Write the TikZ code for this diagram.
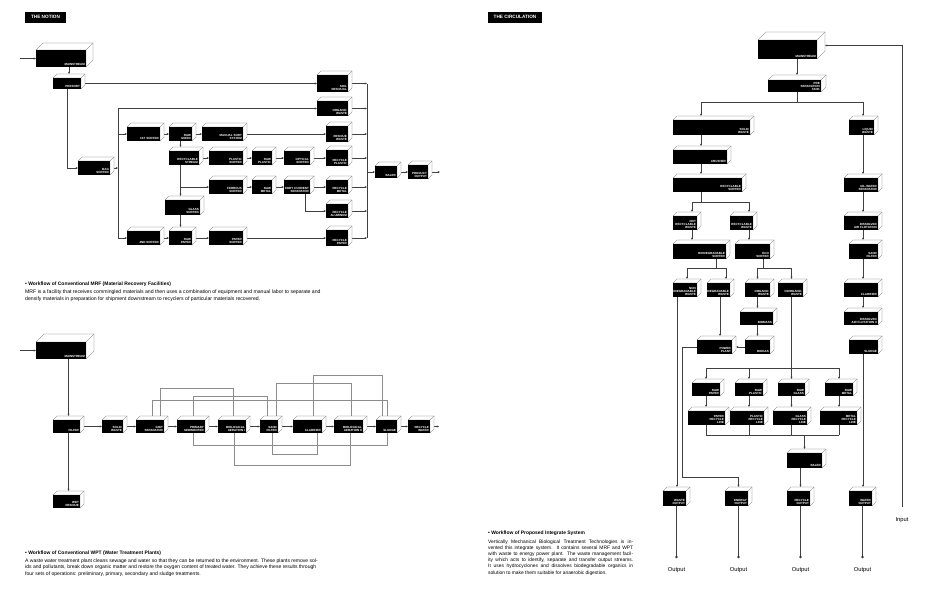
\documentclass[tikz,border=0pt]{standalone}
\usepackage{fontspec}
\setmainfont{Liberation Sans}
\newfontfamily\labfont{Liberation Sans}
\usetikzlibrary{arrows.meta,calc,backgrounds}
\tikzset{
  cn/.style={draw=black!75, line width=0.6pt},
  ar/.style={cn, -{Stealth[length=2.4pt,width=2pt]}},
  lp/.style={draw=black!45, line width=0.55pt},
  face/.style={draw=black!60, line width=0.3pt, fill=white, line join=round},
  front/.style={fill=black, draw=none, inner sep=0pt, outer sep=0pt},
  lbl/.style={text=white, font=\labfont\bfseries\fontsize{3.0}{3.3}\selectfont, inner sep=0.9pt, align=right},
  tagbox/.style={fill=black, text=white, font=\labfont\bfseries\fontsize{4.7}{5}\selectfont, inner sep=0pt, minimum height=11pt},
  captxt/.style={font=\fontsize{4.95}{6}\selectfont\bfseries, anchor=west, inner sep=0pt},
  paratxt/.style={font=\fontsize{5.15}{6.5}\selectfont, anchor=north west, inner sep=0pt, align=left},
  outtxt/.style={font=\fontsize{5.8}{7}\selectfont, inner sep=0pt},
}
\newcommand\cubebox[7][4]{%
  \filldraw[face] (#3,#4) -- ({#3+#1},{#4-#1}) -- ({#5+#1},{#4-#1}) -- ({#5+#1},{#6-#1}) -- (#5,#6) -- (#5,#4) -- cycle;
  \draw[face] (#5,#4) -- ({#5+#1},{#4-#1});
  \node[front, minimum width={#5pt-#3pt}, minimum height={#6pt-#4pt}] (#2) at ({(#3+#5)/2},{(#4+#6)/2}) {};
  \node[inner sep=0pt, outer sep=0pt, minimum width={#5pt-#3pt+#1pt}, minimum height={#6pt-#4pt+#1pt}] (#2o) at ({(#3+#5+#1)/2},{(#4+#6-#1)/2}) {};
  \node[lbl, anchor=south east] (#2l) at (#2.south east) {#7};
}
\begin{document}
\begin{tikzpicture}[x=1pt,y=-1pt]
\useasboundingbox (0,0) rectangle (937,606);
% ---------------- tags
\node[tagbox, minimum width=41pt] (tagA) at (45.5,17) {THE NOTION};
\node[tagbox, minimum width=54pt] (tagB) at (515,17) {THE CIRCULATION};
% ---------------- THE NOTION : MRF
\cubebox[7]{nM}{36}{50}{86}{67}{MAINSTREAM}
\cubebox{nP}{53}{78}{81}{89}{PRESORT}
\cubebox{nBS}{78}{161}{110}{175}{BAG\\SORTER}
\cubebox{nD1}{317}{75}{348}{92}{SOIL\\RESIDUAL}
\cubebox{nD2}{317}{101}{348}{116}{ORGANIC\\WASTE}
\cubebox{nA3}{127}{127}{160}{141}{1ST SORTER}
\cubebox{nB3}{169}{127}{192}{141}{RAW\\MIXED}
\cubebox{nC3}{202}{127}{243}{141}{MANUAL SORT\\SYSTEM}
\cubebox{nD3}{326}{126}{348}{142}{RESIDUE\\WASTE}
\cubebox{nB4}{169}{151}{199}{165}{RECYCLABLE\\STREAM}
\cubebox{nC4}{209}{151}{243}{165}{PLASTIC\\SORTER}
\cubebox{nE4}{252}{151}{272}{165}{RAW\\PLASTIC}
\cubebox{nF4}{284}{151}{310}{165}{OPTICAL\\SORTER}
\cubebox{nD4}{326}{150}{348}{166}{RECYCLE\\PLASTIC}
\cubebox{nC5}{209}{180}{243}{194}{FERROUS\\SORTER}
\cubebox{nE5}{252}{180}{272}{194}{RAW\\METAL}
\cubebox{nF5}{284}{180}{310}{194}{EDDY CURRENT\\SEPARATOR}
\cubebox{nD5}{326}{180}{348}{194}{RECYCLE\\METAL}
\cubebox{nSS}{165}{200}{200}{215}{GLASS\\SORTER}
\cubebox{nD6}{326}{204}{348}{218}{RECYCLE\\ALUMINUM}
\cubebox{nA7}{127}{231}{160}{245}{2ND SORTER}
\cubebox{nB7}{169}{231}{192}{245}{RAW\\PAPER}
\cubebox{nC7}{209}{231}{243}{245}{PAPER\\SORTER}
\cubebox{nD7}{326}{230}{348}{246}{RECYCLE\\PAPER}
\cubebox{nBA}{375}{166}{397}{178}{BALER}
\cubebox{nPO}{408}{165}{428}{179}{PRODUCT\\OUTPUT}
\coordinate (nIn) at (20,58.5);
\coordinate (nV) at (118,0);
\coordinate (nC) at (367,0);
\coordinate (nOut) at (440,172);
% ---------------- WTP
\cubebox[8]{wM}{36}{342}{86}{359}{MAINSTREAM}
\cubebox{wF}{53}{420}{80}{433}{FILTER}
\cubebox{wW}{53}{495}{80}{508}{WET\\RESIDUE}
\cubebox{wSW}{102}{420}{123}{433}{SOLID\\WASTE}
\cubebox{wGS}{136}{420}{164}{433}{GRIT\\SEPARATOR}
\cubebox{wPS}{177}{420}{205}{433}{PRIMARY\\SEDIMENTER}
\cubebox{wA1}{218}{420}{246}{433}{BIOLOGICAL\\AERATION I}
\cubebox{wSF}{260}{420}{278}{433}{SAND\\FILTER}
\cubebox{wCL}{293}{420}{322}{433}{CLARIFIER}
\cubebox{wA2}{334}{420}{363}{433}{BIOLOGICAL\\AERATION II}
\cubebox{wSL}{376}{420}{397}{433}{SLUDGE}
\cubebox{wRW}{408}{420}{430}{433}{RECYCLE\\WATER}
\coordinate (wIn) at (20,350.5);
\coordinate (wOut) at (439,426.5);
% ---------------- THE CIRCULATION
\cubebox[8]{cM}{758}{40}{817}{59}{MAINSTREAM}
\cubebox[5]{cS}{768}{80}{821}{92}{PRE\\SEPARATION\\TANK}
\cubebox{cSW}{673}{120}{750}{135}{SOLID\\WASTE}
\cubebox{cLW}{849}{120}{874}{135}{LIQUID\\WASTE}
\cubebox{cCR}{673}{150}{727}{164}{CRUSHER}
\cubebox{cRS}{673}{178}{742}{192}{RECYCLABLE\\SORTER}
\cubebox{cOS}{844}{178}{878}{192}{OIL-WATER\\SEPARATOR}
\cubebox{cNR}{673}{216}{697}{230}{NOT\\RECYCLABLE\\WASTE}
\cubebox{cRW}{730}{216}{753}{230}{RECYCLABLE\\WASTE}
\cubebox{cDA}{844}{216}{878}{230}{DISSOLVED\\AIR FLOTATION}
\cubebox{cBS}{673}{244}{726}{259}{BIODEGRADABLE\\SORTER}
\cubebox{cES}{735}{244}{770}{259}{ECO\\SORTER}
\cubebox{cSF}{849}{244}{878}{259}{SAND\\FILTER}
\cubebox{cNB}{673}{283}{697}{297}{NON\\BIODEGRADABLE\\WASTE}
\cubebox{cBW}{707}{283}{730}{297}{BIODEGRADABLE\\WASTE}
\cubebox{cOW}{745}{283}{770}{297}{ORGANIC\\WASTE}
\cubebox{cIW}{778}{283}{803}{297}{INORGANIC\\WASTE}
\cubebox{cCL}{844}{283}{878}{297}{CLARIFIER}
\cubebox{cBM}{740}{312}{773}{325}{BIOMASS}
\cubebox{cD2}{844}{312}{878}{325}{DISSOLVED\\AIR FLOTATION II}
\cubebox{cPP}{697}{340}{732}{354}{POWER\\PLANT}
\cubebox{cBG}{745}{340}{770}{354}{BIOGAS}
\cubebox{cSL}{849}{340}{878}{354}{SLUDGE}
\cubebox{cRP}{692}{383}{720}{396}{RAW\\PAPER}
\cubebox{cRL}{735}{383}{763}{396}{RAW\\PLASTIC}
\cubebox{cRG}{778}{383}{805}{396}{RAW\\GLASS}
\cubebox{cRM}{825}{383}{853}{396}{RAW\\METAL}
\cubebox{cLP}{688}{411}{725}{425}{PAPER\\RECYCLE\\LINE}
\cubebox{cLL}{730}{411}{764}{425}{PLASTIC\\RECYCLE\\LINE}
\cubebox{cLG}{773}{411}{807}{425}{GLASS\\RECYCLE\\LINE}
\cubebox{cLM}{820}{411}{857}{425}{METAL\\RECYCLE\\LINE}
\cubebox{cBA}{787}{453}{822}{468}{BALER}
\cubebox{cWO}{663}{491}{686}{506}{WASTE\\OUTPUT}
\cubebox{cEO}{725}{491}{748}{506}{ENERGY\\OUTPUT}
\cubebox{cRO}{787}{491}{810}{506}{RECYCLE\\OUTPUT}
\cubebox{cWA}{849}{491}{872}{506}{WATER\\OUTPUT}
\coordinate (vS) at (701,0);
\coordinate (hS) at (0,102);
\coordinate (hR) at (0,202);
\coordinate (vNR) at (692,0);
\coordinate (vRW) at (749,0);
\coordinate (vBS) at (716,0);
\coordinate (hB) at (0,268);
\coordinate (vNB1) at (687,0);
\coordinate (vNB2) at (677,0);
\coordinate (vBW1) at (726,0);
\coordinate (vBW2) at (720,0);
\coordinate (vES) at (763,0);
\coordinate (vL) at (863,0);
\coordinate (vEn) at (682,0);
\coordinate (hEn) at (0,477);
\coordinate (hRaw) at (0,368);
\coordinate (hLine) at (0,435);
\coordinate (hO) at (0,557);
\coordinate (cIn) at (902,507);
\node[outtxt] (tIn) at (902,520) {Input};
\foreach \b/\t in {cWO/oA,cEO/oB,cRO/oC,cWA/oD}{
  \fill[black!80] (\b o.south |- hO) circle (1.3pt);
  \node[outtxt] (\t) at ($(\b o.south |- hO)+(0,13)$) {Output};
}
% ---------------- captions
\node[captxt] (capA) at (25,284) {\textbullet\ Workflow of Conventional MRF (Material Recovery Facilities)};
\node[paratxt] (parA) at (25,290) {MRF is a facility that receives commingled materials and then uses a combination of equipment and manual labor to separate and\\densify materials in preparation for shipment downstream to recyclers of particular materials recovered.};
\node[captxt] (capB) at (25,553) {\textbullet\ Workflow of Conventional WPT (Water Treatment Plants)};
\node[paratxt, font=\fontsize{5.05}{6.1}\selectfont] (parB) at (25,559) {A waste water treatment plant cleans sewage and water so that they can be returned to the environment. These plants remove sol-\\ids and pollutants, break down organic matter and restore the oxygen content of treated water. They achieve these results through\\four sets of operations: preliminary, primary, secondary and sludge treatments.};
\node[captxt] (capC) at (488,533) {\textbullet\ Workflow of Proposed Integrate System};
\node[paratxt, font=\fontsize{4.9}{6.15}\selectfont] (parC) at (488,539.5) {\makebox[145pt][s]{Vertically Mechanical Biological Treatment Technologies is in-}\\\makebox[145pt][s]{vented this integrate system. It contains several MRF and WPT}\\\makebox[145pt][s]{with waste to energy power plant. The waste management facil-}\\\makebox[145pt][s]{ity which acts to identify, separate and transfer output streams.}\\\makebox[145pt][s]{It uses hydrocyclones and dissolves biodegradable organics in}\\solution to make them suitable for anaerobic digestion.};
% ---------------- connectors (behind boxes)
\begin{pgfonlayer}{background}
\fill[white] (0,0) rectangle (937,606);
% MRF
\draw[ar] (nIn) -- (nM.west);
\draw[ar] (nPo.north |- nM.south) -- (nPo.north);
\draw[ar] (nP.south) |- (nBS.west);
\draw[ar] (nBS.east) -- (nBS.east -| nV);
\draw[cn] (nV |- nD2.west) -- (nV |- nA7.west);
\draw[ar] (nV |- nD2.west) -- (nD2.west);
\draw[ar] (nV |- nA3.west) -- (nA3.west);
\draw[ar] (nV |- nA7.west) -- (nA7.west);
\draw[ar] (nP.east) -- (nD1.west);
\draw[ar] (nA3.east) -- (nB3.west);
\draw[ar] (nB3.east) -- (nC3.west);
\draw[ar] (nC3.east) -- (nD3.west);
\draw[ar] (nB3.south) -- (nB3.south |- nB4o.north);
\draw[ar] (nB4.east) -- (nC4.west);
\draw[ar] (nC4.east) -- (nE4.west);
\draw[ar] (nE4.east) -- (nF4.west);
\draw[ar] (nF4.east) -- (nD4.west);
\draw[ar] (nB3.south |- nB4.south) -- (nB3.south |- nSSo.north);
\draw[ar] (nB3.south |- nC5.west) -- (nC5.west);
\draw[ar] (nC5.east) -- (nE5.west);
\draw[ar] (nE5.east) -- (nF5.west);
\draw[ar] (nF5.east) -- (nD5.west);
\draw[ar] ([xshift=8pt]nF5.south) |- (nD6.west);
\draw[ar] (nB3.south |- nSS.south) -- (nB3.south |- nB7o.north);
\draw[ar] (nA7.east) -- (nB7.west);
\draw[ar] (nB7.east) -- (nC7.west);
\draw[ar] (nC7.east) -- (nD7.west);
\draw[cn] (nC |- nD1.east) -- (nC |- nD7.east);
\foreach \n in {nD1,nD2,nD3,nD4,nD5,nD6,nD7} \draw[ar] (\n.east) -- (\n.east -| nC);
\draw[ar] (nC |- nBA.west) -- (nBA.west);
\draw[ar] (nBA.east) -- (nPO.west);
\draw[ar] (nPO.east) -- (nOut);
% WTP
\draw[ar] (wIn) -- (wM.west);
\draw[ar] (wFo.north |- wM.south) -- (wFo.north);
\draw[ar] (wFo.north |- wF.south) -- (wWo.north);
\draw[ar] (wF.east) -- (wSW.west);
\draw[ar] (wSW.east) -- (wGS.west);
\draw[ar] (wGS.east) -- (wPS.west);
\draw[ar] (wPS.east) -- (wA1.west);
\draw[ar] (wA1.east) -- (wSF.west);
\draw[ar] (wSF.east) -- (wCL.west);
\draw[ar] (wCL.east) -- (wA2.west);
\draw[ar] (wA2.east) -- (wSL.west);
\draw[ar] (wSL.east) -- (wRW.west);
\draw[ar] (wRW.east) -- (wOut);
\draw[lp] ([xshift=10pt]wGS.north) -- ++(0,-32) -| ([xshift=-1pt]wA1o.north);
\draw[lp] ([xshift=2pt]wGS.north) -- ++(0,-20) -| ([xshift=-1pt]wSLo.north);
\draw[lp] ([xshift=2pt]wPS.north) -- ++(0,-24) -| ([xshift=-4pt]wSFo.north);
\draw[lp] ([xshift=7pt]wSF.north) -- ++(0,-37) -| ([xshift=1pt]wA2o.north);
\draw[lp] ([xshift=5.5pt]wCL.north) -- ++(0,-45) -| ([xshift=-6pt]wSLo.north);
\draw[lp] ([xshift=3pt]wSF.south) -- ++(0,21) -| ([xshift=9.5pt]wCL.south);
\draw[lp] ([xshift=2pt]wA1.south) -- ++(0,32) -| ([xshift=1.5pt]wA2.south);
\draw[lp] ([xshift=2pt]wPS.south) -- ++(0,12) -| ([xshift=0.5pt]wSL.south);
% Circulation
\draw[ar] (cIn) |- (cMo.east);
\draw[ar] (cSo.north |- cM.south) -- (cSo.north);
\draw[cn] (cSo.north |- cS.south) -- (cSo.north |- hS);
\draw[cn] (vS |- hS) -- (vL |- hS);
\draw[ar] (vS |- hS) -- (vS |- cSWo.north);
\draw[ar] (vL |- hS) -- (vL |- cLWo.north);
\draw[ar] (vS |- cSW.south) -- (vS |- cCRo.north);
\draw[ar] (vS |- cCR.south) -- (vS |- cRSo.north);
\draw[cn] (vS |- cRS.south) -- (vS |- hR);
\draw[cn] (vNR |- hR) -- (vRW |- hR);
\draw[ar] (vNR |- hR) -- (vNR |- cNRo.north);
\draw[ar] (vRW |- hR) -- (vRW |- cRWo.north);
\draw[ar] (vNR |- cNR.south) -- (vNR |- cBSo.north);
\draw[ar] (vRW |- cRW.south) -- (vRW |- cESo.north);
\draw[cn] (vBS |- cBS.south) -- (vBS |- hB);
\draw[cn] (vNB1 |- hB) -- (vBW1 |- hB);
\draw[ar] (vNB1 |- hB) -- (vNB1 |- cNBo.north);
\draw[ar] (vBW1 |- hB) -- (vBW1 |- cBWo.north);
\draw[cn] (vES |- cES.south) -- (vES |- hB);
\draw[cn] (cOW.north |- hB) -- (cRG.north |- hB);
\draw[ar] (cOW.north |- hB) -- (cOW.north |- cOWo.north);
\draw[ar] (cRG.north |- hB) -- (cRG.north |- cIWo.north);
\draw[ar] (cOW.south) -- (cOW.south |- cBMo.north);
\draw[ar] (cOW.south |- cBM.south) -- (cOW.south |- cBGo.north);
\draw[ar] (cBG.west) -- (cBG.west -| cPPo.east);
\draw[ar] (vBW2 |- cBW.south) -- (vBW2 |- cPPo.north);
\draw[ar] (vNB2 |- cNB.south) -- (vNB2 |- cWOo.north);
\draw[ar] (cPP.west) -- (cPP.west -| vEn) -- (vEn |- hEn) -| (cEOo.north);
\draw[cn] (cRG.north |- cIW.south) -- (cRG.north |- hRaw);
\draw[cn] (cRP.north |- hRaw) -- (cRM.north |- hRaw);
\foreach \r/\l in {cRP/cLP,cRL/cLL,cRG/cLG,cRM/cLM}{
  \draw[ar] (\r.north |- hRaw) -- (\r.north |- \r o.north);
  \draw[ar] (\r.south) -- (\r.south |- \l o.north);
  \draw[cn] (\r.south |- \l.south) -- (\r.south |- hLine);
}
\draw[cn] (cRP.south |- hLine) -- (cRM.south |- hLine);
\draw[ar] (cBA.north |- hLine) -- (cBA.north |- cBAo.north);
\draw[ar] (cROo.north |- cBA.south) -- (cROo.north);
\draw[ar] (vL |- cLW.south) -- (vL |- cOSo.north);
\draw[ar] (vL |- cOS.south) -- (vL |- cDAo.north);
\draw[ar] (vL |- cDA.south) -- (vL |- cSFo.north);
\draw[ar] (vL |- cSF.south) -- (vL |- cCLo.north);
\draw[ar] (vL |- cCL.south) -- (vL |- cD2o.north);
\draw[ar] (vL |- cSL.south) -- (vL |- cWAo.north);
\foreach \b in {cWO,cEO,cRO,cWA} \draw[cn] (\b o.south |- \b.south) -- (\b o.south |- hO);
\end{pgfonlayer}
\end{tikzpicture}
\end{document}
